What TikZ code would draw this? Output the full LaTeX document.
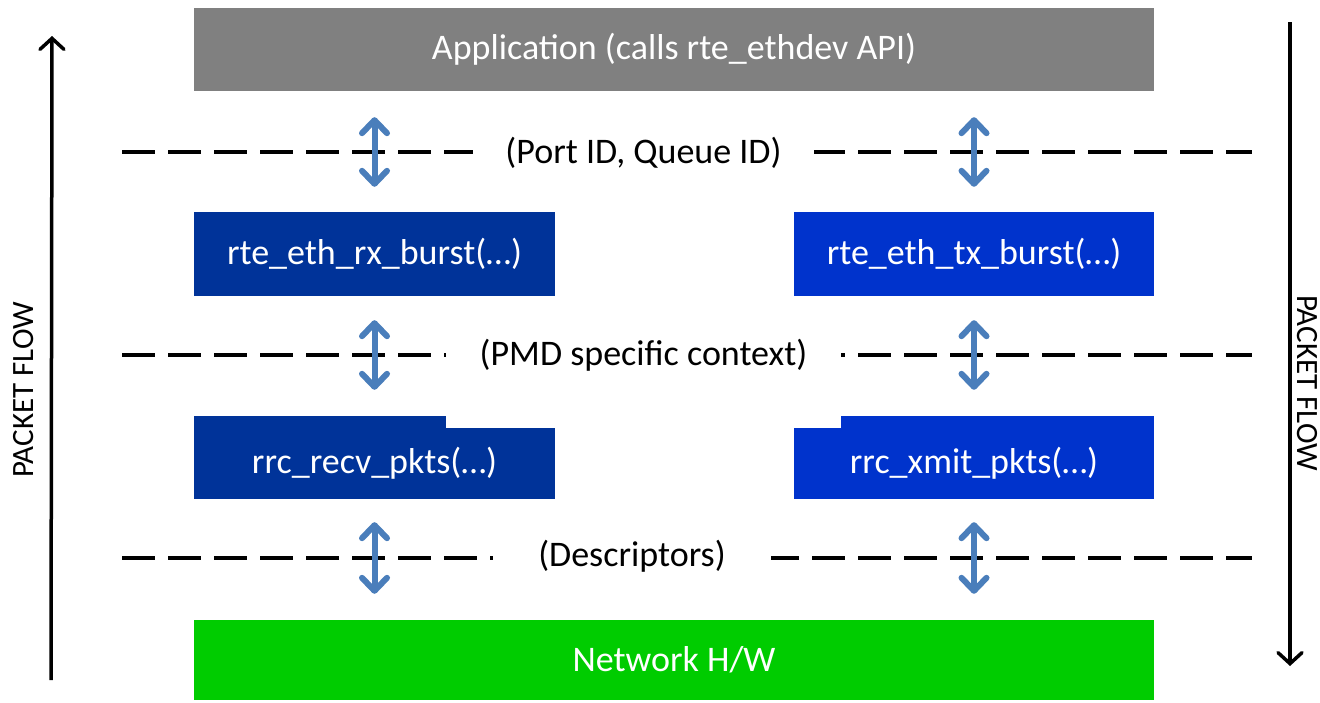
\documentclass[tikz,border=0pt]{standalone}
\usepackage{fontspec}
\setmainfont{Carlito}
\usetikzlibrary{arrows.meta,calc}
\definecolor{appgray}{HTML}{808080}
\definecolor{rxblue}{HTML}{003399}
\definecolor{txblue}{HTML}{0033CC}
\definecolor{hwgreen}{HTML}{00CC00}
\definecolor{linkblue}{HTML}{4A7EBB}

\begin{document}
\begin{tikzpicture}[x=1pt,y=-1pt,
  layerbox/.style={fill=#1, draw=none, text=white, inner sep=0pt,
    font=\fontsize{36}{43}\selectfont},
  boundary/.style={draw=black, line width=4pt, dash pattern=on 33pt off 13pt},
  boundlabel/.style={fill=white, inner sep=0pt, minimum height=30pt,
    font=\fontsize{36}{43}\selectfont},
  link/.style={draw=linkblue, line width=6pt,
    {Straight Barb[length=13pt,width=25pt,line cap=round,line join=round]}-{Straight Barb[length=13pt,width=25pt,line cap=round,line join=round]}},
  flow/.style={draw=black, line width=3.5pt,
    -{Straight Barb[length=11pt,width=24pt,line cap=round]}},
  flowlabel/.style={inner sep=0pt, font=\fontsize{31}{37}\selectfont}
]
\useasboundingbox (0,0) rectangle (1320,702);

% layer boxes
\node[layerbox=appgray, minimum width=960pt, minimum height=83pt] (app) at (674,49.5)
  {Application (calls rte\_ethdev API)};
\node[layerbox=rxblue, minimum width=361pt, minimum height=84pt] (rx) at (374.5,254)
  {rte\_eth\_rx\_burst(…)};
\node[layerbox=txblue, minimum width=360pt, minimum height=84pt] (tx) at (974,254)
  {rte\_eth\_tx\_burst(…)};
\node[layerbox=rxblue, minimum width=361pt, minimum height=71pt] (recv) at (374.5,463.5) {};
\node[layerbox=txblue, minimum width=360pt, minimum height=71pt] (xmit) at (974,463.5) {};
\fill[rxblue] (recv.north west) rectangle ++(252,-12);
\fill[txblue] (xmit.north east) rectangle ++(-313,-12);
\node[text=white, font=\fontsize{36}{43}\selectfont] at (recv.center) {rrc\_recv\_pkts(…)};
\node[text=white, font=\fontsize{36}{43}\selectfont] at (xmit.center) {rrc\_xmit\_pkts(…)};
\node[layerbox=hwgreen, minimum width=960pt, minimum height=80pt] (hw) at (674,660)
  {Network H/W};

% interface boundaries
\coordinate (b1l) at (122,152); \coordinate (b1r) at (1252,152);
\coordinate (b2l) at (122,355); \coordinate (b2r) at (1252,355);
\coordinate (b3l) at (122,558); \coordinate (b3r) at (1252,558);
\draw[boundary] (b1l) -- (b1r);
\draw[boundary] (b2l) -- (b2r);
\draw[boundary] (b3l) -- (b3r);
\node[boundlabel, minimum width=341pt] (l1) at (643.5,153) {(Port ID, Queue ID)};
\node[boundlabel, minimum width=395pt] (l2) at (643.5,355) {(PMD specific context)};
\node[boundlabel, minimum width=278pt] (l3) at (632,556) {(Descriptors)};

% calls between layers
\draw[link, shorten <=26pt, shorten >=25pt] (app.south -| rx.north) -- (rx.north);
\draw[link, shorten <=26pt, shorten >=25pt] (app.south -| tx.north) -- (tx.north);
\draw[link, shorten <=24pt, shorten >=38pt] (rx.south) -- (recv.north);
\draw[link, shorten <=24pt, shorten >=38pt] (tx.south) -- (xmit.north);
\draw[link, shorten <=23pt, shorten >=26pt] (recv.south) -- (hw.north -| recv.south);
\draw[link, shorten <=23pt, shorten >=26pt] (xmit.south) -- (hw.north -| xmit.south);

% packet flow directions
\coordinate (upfrom) at (51,680); \coordinate (upto) at (52,36);
\coordinate (downfrom) at (1290,22); \coordinate (downto) at (1290,666);
\draw[flow] (upfrom) -- (upto);
\draw[flow] (downfrom) -- (downto);
\node[flowlabel, rotate=90] (flowl) at (24,390) {PACKET FLOW};
\node[flowlabel, rotate=-90] (flowr) at (1307,383) {PACKET FLOW};
\end{tikzpicture}
\end{document}
